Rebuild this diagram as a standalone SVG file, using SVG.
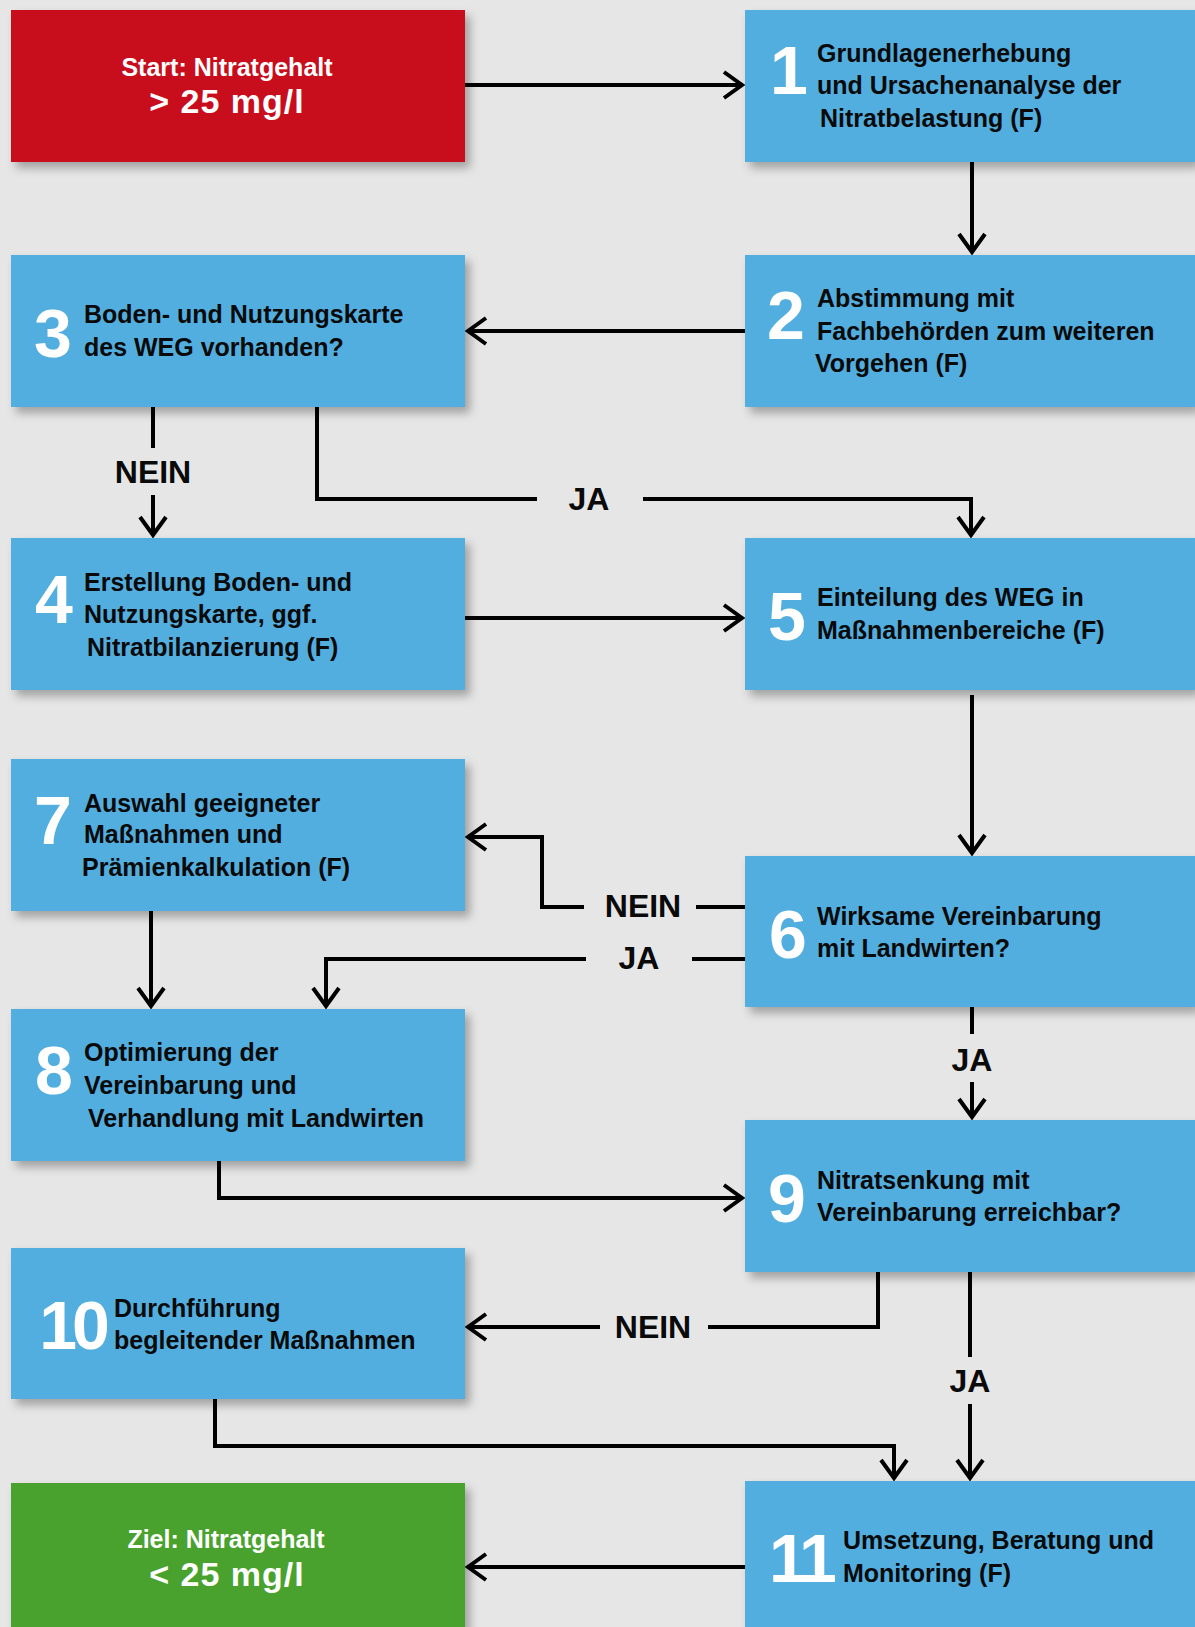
<svg xmlns="http://www.w3.org/2000/svg" width="1195" height="1627" viewBox="0 0 1195 1627">
<defs>
<filter id="sh" x="-5%" y="-10%" width="115%" height="130%">
<feDropShadow dx="5" dy="6" stdDeviation="5" flood-color="#000" flood-opacity="0.3"/>
</filter>
<marker id="ah" markerUnits="userSpaceOnUse" viewBox="-24 -18 28 36" refX="0" refY="0" markerWidth="28" markerHeight="36" orient="auto">
<path d="M-18,-13 L0,0 L-18,13" fill="none" stroke="#000" stroke-width="4"/>
</marker>
<style>
.bx{fill:#52AEE0;filter:url(#sh)}
.t{font-family:"Liberation Sans",Arial,sans-serif;font-weight:bold;font-size:25px;fill:#0a0a0a}
.n{font-family:"Liberation Sans",Arial,sans-serif;font-weight:bold;font-size:68px;fill:#fff;text-anchor:middle}
.w{font-family:"Liberation Sans",Arial,sans-serif;font-weight:bold;fill:#fff;text-anchor:middle}
.l{font-family:"Liberation Sans",Arial,sans-serif;font-weight:bold;font-size:32px;fill:#0a0a0a;text-anchor:middle}
.c{fill:none;stroke:#000;stroke-width:4}
</style>
</defs>
<rect width="1195" height="1627" fill="#E6E6E6"/>

<g id="connectors">
<path class="c" d="M465,85 H742" marker-end="url(#ah)"/>
<path class="c" d="M972,162 V252" marker-end="url(#ah)"/>
<path class="c" d="M745,331 H468" marker-end="url(#ah)"/>
<path class="c" d="M153,407 V448"/>
<path class="c" d="M153,495 V535" marker-end="url(#ah)"/>
<path class="c" d="M317,407 V499 H537"/>
<path class="c" d="M643,499 H971 V535" marker-end="url(#ah)"/>
<path class="c" d="M465,618 H742" marker-end="url(#ah)"/>
<path class="c" d="M972,695 V853" marker-end="url(#ah)"/>
<path class="c" d="M745,907 H696"/>
<path class="c" d="M584,907 H542 V837 H468" marker-end="url(#ah)"/>
<path class="c" d="M745,959 H692"/>
<path class="c" d="M586,959 H326 V1006" marker-end="url(#ah)"/>
<path class="c" d="M151,911 V1006" marker-end="url(#ah)"/>
<path class="c" d="M972,1006 V1034"/>
<path class="c" d="M972,1082 V1117" marker-end="url(#ah)"/>
<path class="c" d="M219,1161 V1198 H742" marker-end="url(#ah)"/>
<path class="c" d="M878,1272 V1327 H708"/>
<path class="c" d="M600,1327 H468" marker-end="url(#ah)"/>
<path class="c" d="M970,1272 V1357"/>
<path class="c" d="M970,1404 V1478" marker-end="url(#ah)"/>
<path class="c" d="M215,1399 V1446 H894 V1478" marker-end="url(#ah)"/>
<path class="c" d="M745,1567 H468" marker-end="url(#ah)"/>
<text class="l" x="153" y="483">NEIN</text>
<text class="l" x="589" y="510">JA</text>
<text class="l" x="643" y="917">NEIN</text>
<text class="l" x="639" y="969">JA</text>
<text class="l" x="972" y="1071">JA</text>
<text class="l" x="653" y="1338">NEIN</text>
<text class="l" x="970" y="1392">JA</text>
</g>

<g id="start">
<rect x="11" y="10" width="454" height="152" fill="#C8081E" filter="url(#sh)"/>
<text class="w" x="227" y="76" font-size="25">Start: Nitratgehalt</text>
<text class="w" x="227" y="113" font-size="34" letter-spacing="1">&gt; 25 mg/l</text>
</g>

<g id="n1">
<rect class="bx" x="745" y="10" width="450" height="152"/>
<text class="n" x="789" y="94">1</text>
<text class="t" x="817" y="62">Grundlagenerhebung</text>
<text class="t" x="817" y="94">und Ursachenanalyse der</text>
<text class="t" x="820" y="127">Nitratbelastung (F)</text>
</g>

<g id="n2">
<rect class="bx" x="745" y="255" width="450" height="152"/>
<text class="n" x="786" y="339">2</text>
<text class="t" x="817" y="307">Abstimmung mit</text>
<text class="t" x="817" y="340">Fachbehörden zum weiteren</text>
<text class="t" x="815" y="372">Vorgehen (F)</text>
</g>

<g id="n3">
<rect class="bx" x="11" y="255" width="454" height="152"/>
<text class="n" x="53" y="357">3</text>
<text class="t" x="84" y="323">Boden- und Nutzungskarte</text>
<text class="t" x="84" y="356">des WEG vorhanden?</text>
</g>

<g id="n4">
<rect class="bx" x="11" y="538" width="454" height="152"/>
<text class="n" x="54" y="623">4</text>
<text class="t" x="84" y="591">Erstellung Boden- und</text>
<text class="t" x="84" y="623">Nutzungskarte, ggf.</text>
<text class="t" x="87" y="656">Nitratbilanzierung (F)</text>
</g>

<g id="n5">
<rect class="bx" x="745" y="538" width="450" height="152"/>
<text class="n" x="787" y="640">5</text>
<text class="t" x="817" y="606">Einteilung des WEG in</text>
<text class="t" x="817" y="639">Maßnahmenbereiche (F)</text>
</g>

<g id="n6">
<rect class="bx" x="745" y="856" width="450" height="151"/>
<text class="n" x="788" y="958">6</text>
<text class="t" x="817" y="925">Wirksame Vereinbarung</text>
<text class="t" x="817" y="957">mit Landwirten?</text>
</g>

<g id="n7">
<rect class="bx" x="11" y="759" width="454" height="152"/>
<text class="n" x="53" y="844">7</text>
<text class="t" x="84" y="812">Auswahl geeigneter</text>
<text class="t" x="84" y="843">Maßnahmen und</text>
<text class="t" x="82" y="876">Prämienkalkulation (F)</text>
</g>

<g id="n8">
<rect class="bx" x="11" y="1009" width="454" height="152"/>
<text class="n" x="54" y="1094">8</text>
<text class="t" x="84" y="1061">Optimierung der</text>
<text class="t" x="84" y="1094">Vereinbarung und</text>
<text class="t" x="88" y="1127">Verhandlung mit Landwirten</text>
</g>

<g id="n9">
<rect class="bx" x="745" y="1120" width="450" height="152"/>
<text class="n" x="787" y="1222">9</text>
<text class="t" x="817" y="1189">Nitratsenkung mit</text>
<text class="t" x="817" y="1221">Vereinbarung erreichbar?</text>
</g>

<g id="n10">
<rect class="bx" x="11" y="1248" width="454" height="151"/>
<text class="n" x="72" y="1349" letter-spacing="-5">10</text>
<text class="t" x="114" y="1317">Durchführung</text>
<text class="t" x="114" y="1349">begleitender Maßnahmen</text>
</g>

<g id="n11">
<rect class="bx" x="745" y="1481" width="450" height="160"/>
<text class="n" x="801" y="1582" letter-spacing="-4">11</text>
<text class="t" x="843" y="1549">Umsetzung, Beratung und</text>
<text class="t" x="843" y="1582">Monitoring (F)</text>
</g>

<g id="ziel">
<rect x="11" y="1483" width="454" height="160" fill="#4AA22F" filter="url(#sh)"/>
<text class="w" x="226" y="1548" font-size="25">Ziel: Nitratgehalt</text>
<text class="w" x="227" y="1586" font-size="34" letter-spacing="1">&lt; 25 mg/l</text>
</g>
</svg>
